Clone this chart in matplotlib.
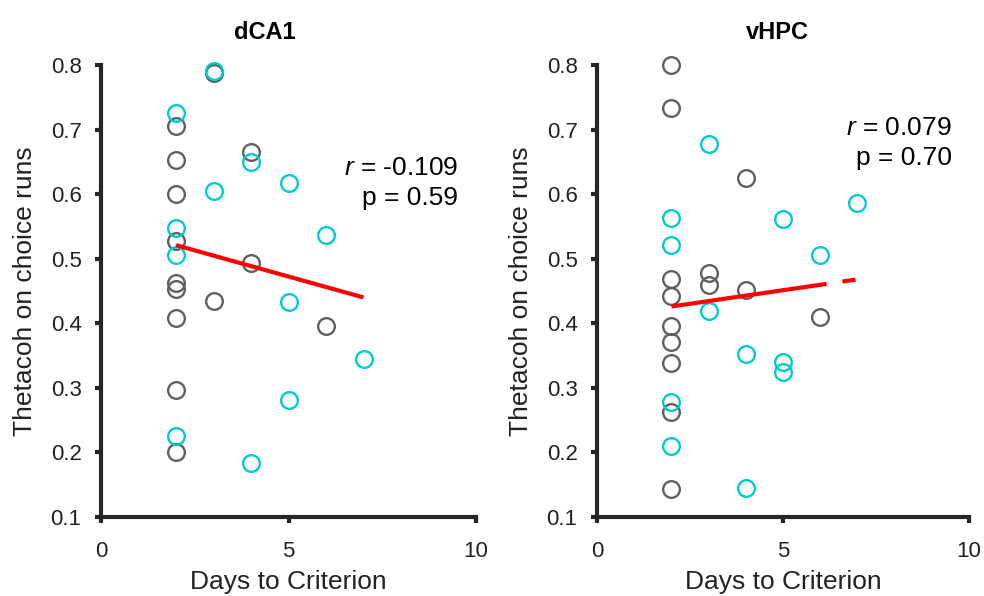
import numpy as np
import matplotlib
matplotlib.use('Agg')
from matplotlib import pyplot as plt

plt.rcParams['font.family'] = ['Liberation Sans', 'DejaVu Sans']
plt.rcParams['mathtext.fontset'] = 'custom'
plt.rcParams['mathtext.it'] = 'Liberation Sans:italic'
plt.rcParams['mathtext.rm'] = 'Liberation Sans'
plt.rcParams['lines.scale_dashes'] = False

# dCA1 data
dca1_gray_x = [2, 2, 2, 2, 2, 2, 2, 2, 2, 3, 3, 4, 4, 6]
dca1_gray_y = [0.705, 0.653, 0.600, 0.527, 0.462, 0.453, 0.408, 0.297, 0.200,
               0.788, 0.435, 0.666, 0.493, 0.396]
dca1_cyan_x = [2, 2, 2, 2, 3, 3, 4, 4, 5, 5, 5, 6, 7]
dca1_cyan_y = [0.726, 0.548, 0.506, 0.225, 0.790, 0.605, 0.650, 0.183,
               0.617, 0.433, 0.281, 0.537, 0.344]
dca1_fit_x = [2, 7]
dca1_fit_y = [0.521, 0.440]

# vHPC data
vhpc_gray_x = [2, 2, 2, 2, 2, 2, 2, 2, 2, 3, 3, 4, 4, 6]
vhpc_gray_y = [0.800, 0.733, 0.468, 0.442, 0.396, 0.371, 0.338, 0.262, 0.144,
               0.478, 0.460, 0.625, 0.452, 0.410]
vhpc_cyan_x = [2, 2, 2, 2, 3, 3, 4, 4, 5, 5, 5, 6, 7]
vhpc_cyan_y = [0.5635, 0.521, 0.278, 0.210, 0.677, 0.419, 0.352, 0.145,
               0.5615, 0.340, 0.325, 0.505, 0.587]
vhpc_fit_x = [2, 7]
vhpc_fit_y = [0.426, 0.468]

gray = '#606060'
cyan = '#00CCCC'
dark = '#262626'

fig = plt.figure(figsize=(9.84, 5.96), dpi=100)
ax1 = fig.add_axes([101/984, 1-517/596, 375/984, 452/596])
ax2 = fig.add_axes([597/984, 1-517/596, 372/984, 452/596])

panels = [
    (ax1, 'dCA1', 0.437, dca1_gray_x, dca1_gray_y, dca1_cyan_x, dca1_cyan_y,
     dca1_fit_x, dca1_fit_y, '-0.109', '0.59', 0.952, 0.772, 0.706, None),
    (ax2, 'vHPC', 0.484, vhpc_gray_x, vhpc_gray_y, vhpc_cyan_x, vhpc_cyan_y,
     vhpc_fit_x, vhpc_fit_y, '0.079', '0.70', 0.954, 0.861, 0.794, (113, 11.5, 9.5, 40)),
]

for ax, title, tix, gx, gy, cx, cy, fx, fy, rtxt, ptxt, tx, ry, py, dashes in panels:
    ax.plot(gx, gy, 'o', ls='none', ms=12, mfc='none', mec=gray, mew=1.7, clip_on=False)
    ax.plot(cx, cy, 'o', ls='none', ms=12, mfc='none', mec=cyan, mew=1.7, clip_on=False)
    line, = ax.plot(fx, fy, color='red', lw=3, solid_capstyle='butt')
    if dashes is not None:
        line.set_dashes(dashes)
        line.set_dash_capstyle('butt')
    ax.set_xlim(0, 10)
    ax.set_ylim(0.1, 0.8)
    ax.set_xticks([0, 5, 10])
    ax.set_yticks(np.arange(0.1, 0.81, 0.1))
    ax.set_yticklabels(['0.1', '0.2', '0.3', '0.4', '0.5', '0.6', '0.7', '0.8'])
    for s in ['top', 'right']:
        ax.spines[s].set_visible(False)
    for s in ['left', 'bottom']:
        ax.spines[s].set_linewidth(3)
        ax.spines[s].set_color(dark)
    ax.tick_params(direction='out', length=4, width=3, color=dark,
                   labelsize=16, labelcolor='#222222')
    ax.tick_params(axis='y', pad=10)
    ax.tick_params(axis='x', pad=13)
    ax.set_xlabel('Days to Criterion', fontsize=19, color='#222222', labelpad=6)
    ax.set_ylabel('Thetacoh on choice runs', fontsize=19, color='#222222', labelpad=10)
    ax.set_title(title, fontsize=17, fontweight='bold', x=tix, pad=19)
    ax.text(tx, ry, r'$r$ = ' + rtxt, transform=ax.transAxes, ha='right',
            va='center', fontsize=19)
    ax.text(tx, py, 'p = ' + ptxt, transform=ax.transAxes, ha='right',
            va='center', fontsize=19)

fig.savefig('out.png', dpi=100)
